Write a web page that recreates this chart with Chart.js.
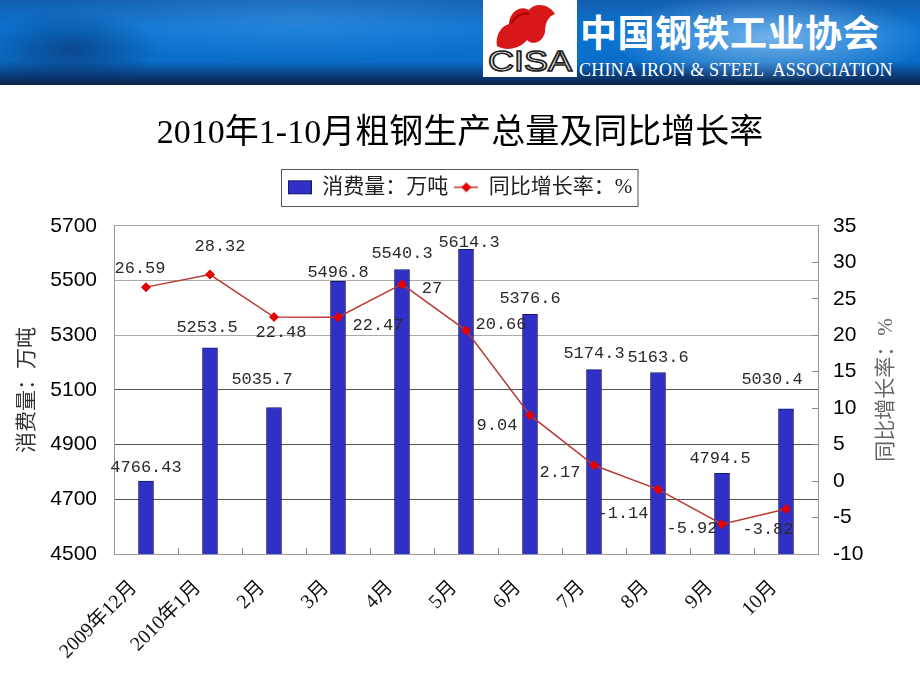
<!DOCTYPE html>
<html lang="zh">
<head>
<meta charset="utf-8">
<title>2010年1-10月粗钢生产总量及同比增长率</title>
<script src="https://cdn.jsdelivr.net/npm/chart.js@4.4.1/dist/chart.umd.min.js"></script>
<style>
    html, body { margin: 0; padding: 0; background: #fff; }
    #wrap { position: relative; width: 920px; height: 690px; overflow: hidden; }
    #steelChart { position: absolute; left: 0; top: 0; }
    .banner {
        position: absolute; left: 0; top: 0; width: 920px; height: 85px;
        background:
            radial-gradient(ellipse 160px 45px at 770px 38px, rgba(200,230,255,.55), rgba(200,230,255,0)),
            radial-gradient(ellipse 90px 40px at 70px 50px, rgba(10,40,90,.55), rgba(10,40,90,0)),
            radial-gradient(ellipse 260px 40px at 300px 20px, rgba(90,170,240,.35), rgba(90,170,240,0)),
            linear-gradient(to bottom, #145fb0 0%, #0a74d2 35%, #0a6ec9 72%, #0a3f80 88%, #0a2246 100%);
    }
    .logo { position: absolute; left: 483px; top: 0; width: 94px; height: 77px; background: #fff; }
    .cn-name {
        position: absolute; left: 580px; top: 4px; color: #fff;
        font: bold 37px "Noto Sans CJK SC"; letter-spacing: 0.5px; white-space: nowrap;
    }
    .en-name {
        position: absolute; left: 579px; top: 60px; color: #fff;
        font: 18px "Liberation Serif"; letter-spacing: 0.2px; white-space: nowrap;
    }
</style>
</head>
<body>
<div id="wrap">
    <canvas id="steelChart" width="920" height="690"></canvas>
    <div class="banner">
        <div class="logo">
            <svg width="94" height="77" viewBox="0 0 94 77">
                <path d="M14 46 C12 36 18 26 26 24 C26 14 36 4 46 10 C52 2 66 4 72 14 C66 16 62 22 62 32 C60 42 50 46 44 40 C38 48 24 52 14 46 Z" fill="#d81818"/>
                <path d="M28 24 C32 16 40 12 46 14" stroke="#a00" stroke-width="2" fill="none"/>
                <text x="47" y="71" text-anchor="middle" font-family="Liberation Sans" font-size="30" textLength="84" lengthAdjust="spacingAndGlyphs" fill="#fff" stroke="#222" stroke-width="1.6">CISA</text>
            </svg>
        </div>
        <div class="cn-name">中国钢铁工业协会</div>
        <div class="en-name">CHINA IRON &amp; STEEL&nbsp; ASSOCIATION</div>
    </div>
</div>
<script>
    "use strict";

    // categories and values
    var months = ["2009年12月", "2010年1月", "2月", "3月", "4月", "5月", "6月", "7月", "8月", "9月", "10月"];
    var steelOutput = [4766.43, 5253.5, 5035.7, 5496.8, 5540.3, 5614.3, 5376.6, 5174.3, 5163.6, 4794.5, 5030.4];
    var growthRate = [26.59, 28.32, 22.48, 22.47, 27, 20.66, 9.04, 2.17, -1.14, -5.92, -3.82];
    var outputAxis = [4500, 5700, 200];   // min, max, step
    var rateAxis = [-10, 35, 5];

    // where each value label sits relative to its mark (dx, dy)
    var outputLabelShift = [[0,-14],[-3,-20],[-12,-28],[0,-9],[0,-16],[3,-7],[0,-16],[0,-16],[0,-15],[-2,-15],[-14,-29]];
    var rateLabelShift = [[-6,-19],[10,-28],[7,15],[40,8],[30,4],[35,-6],[-33,10],[-34,7],[-35,24],[-30,4],[-18,21]];

    var CJK = '"Liberation Serif", "Noto Sans CJK SC"';

    function legendIcon(kind) {
        var c = document.createElement('canvas');
        c.width = 24; c.height = 16;
        var g = c.getContext('2d');
        if (kind === 'bar') {
            g.fillStyle = '#3030c6';
            g.fillRect(0, 1, 24, 14);
            g.strokeStyle = '#16166e';
            g.strokeRect(0.5, 1.5, 23, 13);
        } else {
            g.strokeStyle = '#b83a32';
            g.lineWidth = 1.5;
            g.beginPath(); g.moveTo(0, 8); g.lineTo(24, 8); g.stroke();
            g.fillStyle = '#e80000';
            g.beginPath(); g.moveTo(12, 3); g.lineTo(17, 8); g.lineTo(12, 13); g.lineTo(7, 8); g.closePath(); g.fill();
        }
        return c;
    }
    var icons = [legendIcon('bar'), legendIcon('line')];

    var valueLabels = {
        id: 'valueLabels',
        afterDatasetsDraw: function(chart) {
            var ctx = chart.ctx;
            ctx.save();
            ctx.font = '17px "Liberation Mono"';
            ctx.fillStyle = '#2a2a2a';
            ctx.textAlign = 'center';
            ctx.textBaseline = 'middle';
            chart.data.datasets.forEach(function(ds, i) {
                chart.getDatasetMeta(i).data.forEach(function(el, j) {
                    ctx.fillText(String(ds.data[j]), el.x + ds.labelShift[j][0], el.y + ds.labelShift[j][1]);
                });
            });
            ctx.restore();
        }
    };

    var extras = {
        id: 'extras',
        afterDraw: function(chart) {
            var ctx = chart.ctx, boxes = chart.legend.legendHitBoxes;
            var first = boxes[0], last = boxes[boxes.length - 1];
            ctx.save();
            // legend frame
            ctx.strokeStyle = '#555';
            ctx.lineWidth = 1;
            var l = Math.round(first.left - 7) + 0.5, t = Math.round(first.top - 8) + 0.5;
            ctx.strokeRect(l, t, Math.round(last.left + last.width + 6) - l, Math.round(first.height + 16));
            // right axis title, reading upwards like the left one
            var s = chart.scales.y1, area = chart.chartArea;
            ctx.translate(s.right - 34, (area.top + area.bottom) / 2);
            ctx.rotate(-Math.PI / 2);
            ctx.font = '21px ' + CJK;
            ctx.fillStyle = '#666';
            ctx.textAlign = 'center';
            ctx.textBaseline = 'middle';
            ctx.fillText('同比增长率：%', 0, 0);
            ctx.restore();
        }
    };

    function plainTick(v) { return String(v); }

    new Chart(document.getElementById('steelChart').getContext('2d'), {
        type: 'bar',
        data: {
            labels: months,
            datasets: [{
                type: 'bar',
                label: '消费量：万吨',
                data: steelOutput,
                yAxisID: 'y',
                backgroundColor: '#3030c6',
                borderColor: '#16166e',
                borderWidth: 1,
                borderSkipped: 'bottom',
                barThickness: 15,
                order: 1,
                labelShift: outputLabelShift
            }, {
                type: 'line',
                label: '同比增长率：%',
                data: growthRate,
                yAxisID: 'y1',
                borderColor: '#b83a32',
                borderWidth: 1.5,
                tension: 0,
                pointStyle: 'rectRot',
                pointRadius: 5,
                pointBackgroundColor: '#e80000',
                pointBorderColor: '#e80000',
                pointBorderWidth: 0,
                order: 0,
                labelShift: rateLabelShift
            }]
        },
        options: {
            responsive: false,
            animation: false,
            devicePixelRatio: 1,
            layout: { padding: { top: 114, left: 0, right: 0, bottom: 0 } },
            plugins: {
                title: {
                    display: true,
                    text: '2010年1-10月粗钢生产总量及同比增长率',
                    color: '#000',
                    font: { family: CJK, size: 34, weight: 'normal' },
                    padding: { top: 0, bottom: 16 }
                },
                legend: {
                    display: true,
                    labels: {
                        usePointStyle: true,
                        pointStyleWidth: 24,
                        padding: 6,
                        color: '#222',
                        font: { family: CJK, size: 21 },
                        generateLabels: function(chart) {
                            var items = Chart.defaults.plugins.legend.labels.generateLabels(chart);
                            items.sort(function(a, b) { return a.datasetIndex - b.datasetIndex; });
                            items.forEach(function(it) { it.pointStyle = icons[it.datasetIndex]; });
                            return items;
                        }
                    }
                },
                tooltip: { enabled: false }
            },
            scales: {
                x: {
                    position: 'bottom',
                    grid: { display: true, drawOnChartArea: false, drawTicks: true, tickLength: -6, color: '#888', offset: true },
                    border: { display: true, color: '#999' },
                    ticks: {
                        autoSkip: false, minRotation: 45, maxRotation: 45, padding: 28, labelOffset: -12,
                        color: '#111', font: { family: CJK, size: 20 }
                    },
                    afterFit: function(s) { s.height = 136; }
                },
                xTop: {
                    type: 'category',
                    position: 'top',
                    display: true,
                    grid: { display: false },
                    border: { display: true, color: '#a8a8a8' },
                    ticks: { display: false },
                    afterFit: function(s) { s.height = 18; }
                },
                y: {
                    position: 'left',
                    min: outputAxis[0], max: outputAxis[1],
                    grid: {
                        drawTicks: false,
                        color: function(c) { return (c.tick.value > 5100 || c.tick.value === 4500) ? '#aaa' : '#555'; }
                    },
                    border: { display: true, color: '#999' },
                    ticks: { stepSize: outputAxis[2], padding: 17, color: '#000', callback: plainTick, font: { family: '"Liberation Sans"', size: 21 } },
                    title: {
                        display: true, text: '消费量：万吨', color: '#333',
                        font: { family: CJK, size: 21 }, padding: { top: 15, bottom: 0 }
                    },
                    afterFit: function(s) { s.width = 114; }
                },
                y1: {
                    position: 'right',
                    min: rateAxis[0], max: rateAxis[1],
                    grid: { drawOnChartArea: false, drawTicks: true, tickLength: -6, color: '#888' },
                    border: { display: true, color: '#999' },
                    ticks: { stepSize: rateAxis[2], padding: 21, color: '#000', callback: plainTick, font: { family: '"Liberation Sans"', size: 21 } },
                    afterFit: function(s) { s.width = 102; }
                }
            }
        },
        plugins: [valueLabels, extras]
    });
</script>
</body>
</html>
